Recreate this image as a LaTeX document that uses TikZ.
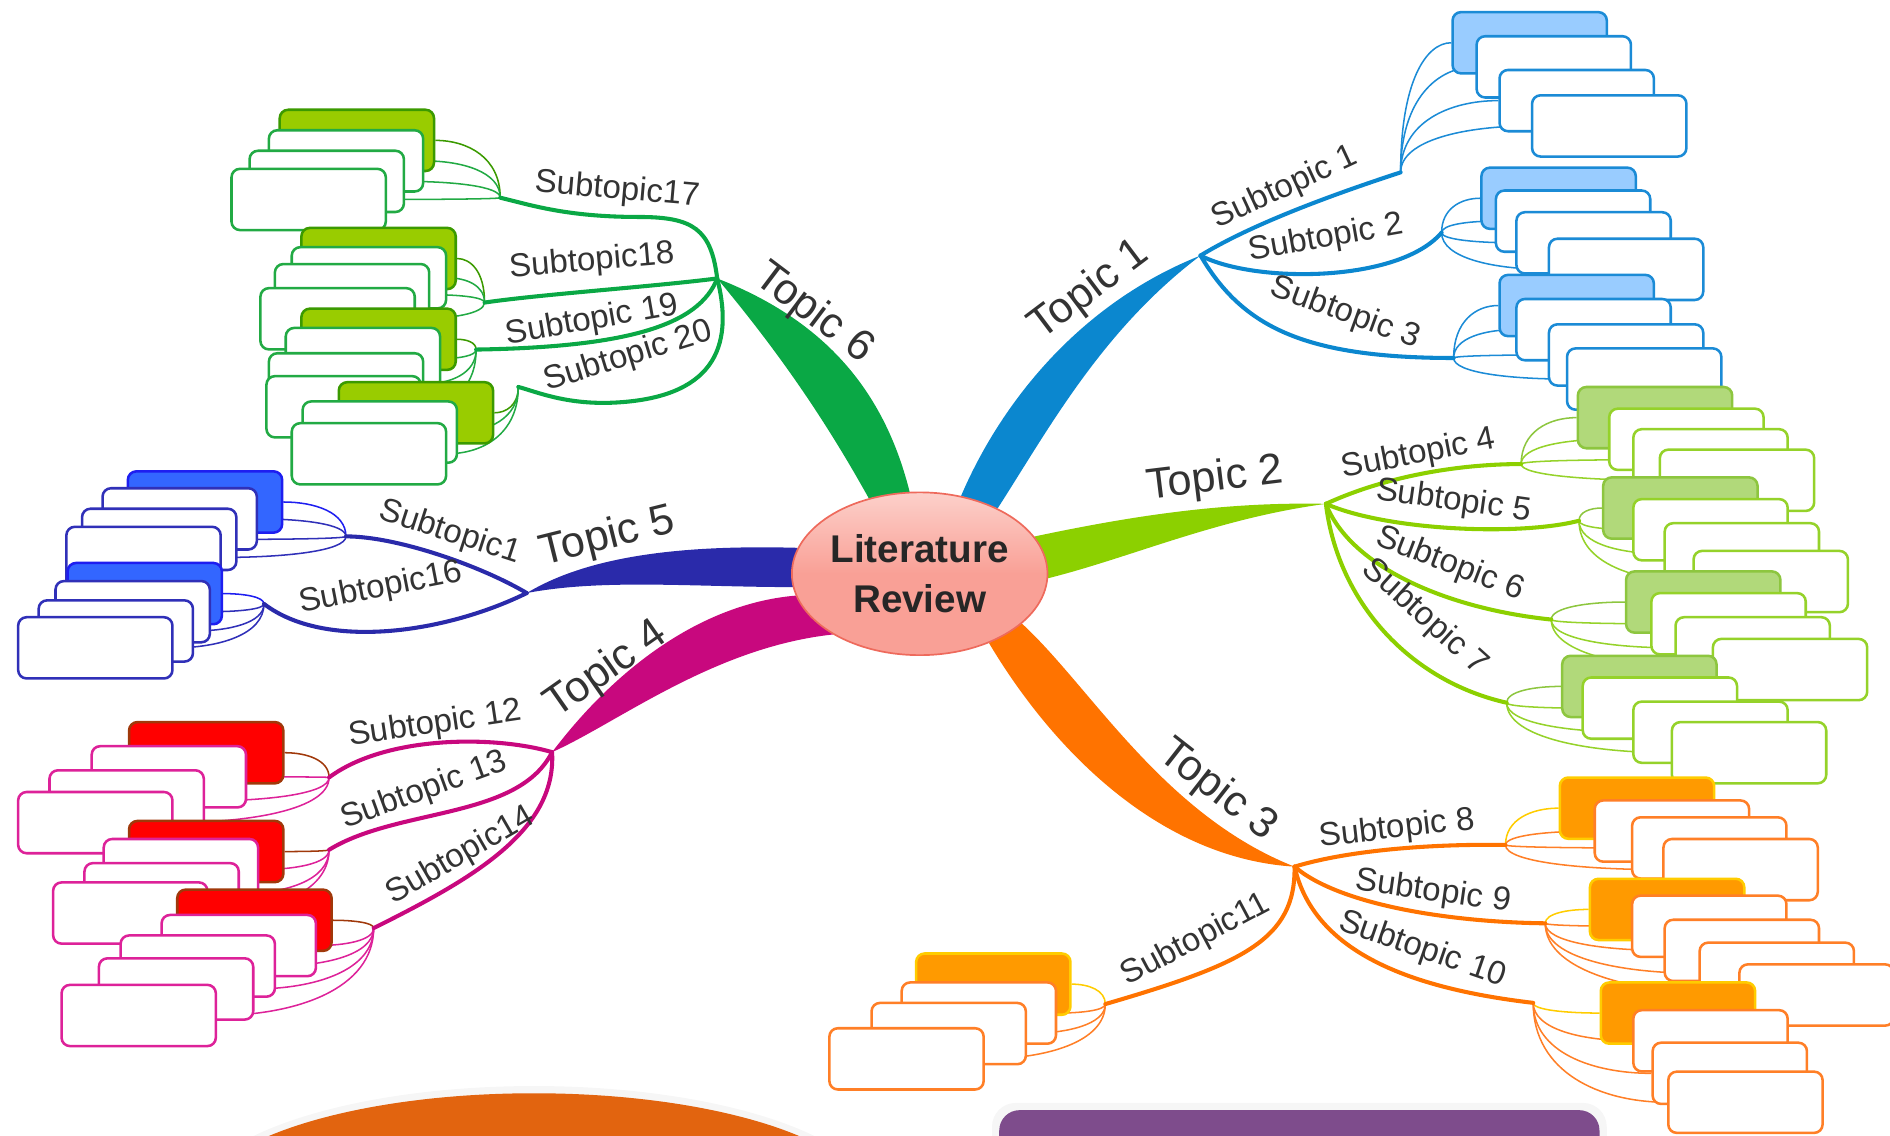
\documentclass[tikz,border=0pt]{standalone}
\usepackage{fontspec}
\setmainfont{Liberation Sans}
\usetikzlibrary{calc,shapes.geometric}
\pgfdeclarelayer{back}
\pgfsetlayers{back,main}

\definecolor{ink}{HTML}{333333}
\definecolor{litfill}{HTML}{F9A096}
\definecolor{litlight}{HTML}{FCD0CA}
\definecolor{litedge}{HTML}{EE6A5C}
\definecolor{topA}{HTML}{0B87CF}
\definecolor{leafA}{HTML}{1B8BD6}
\definecolor{fillA}{HTML}{99CCFF}
\definecolor{topB}{HTML}{8CD000}
\definecolor{leafB}{HTML}{95D22A}
\definecolor{fillB}{HTML}{B1D97A}
\definecolor{rimB}{HTML}{8DC63F}
\definecolor{topC}{HTML}{FF7300}
\definecolor{leafC}{HTML}{FF7F27}
\definecolor{fillC}{HTML}{FF9A00}
\definecolor{rimC}{HTML}{FFCC00}
\definecolor{topD}{HTML}{C8087E}
\definecolor{leafD}{HTML}{DD2299}
\definecolor{fillD}{HTML}{FF0000}
\definecolor{rimD}{HTML}{A0380A}
\definecolor{topE}{HTML}{2A2AAA}
\definecolor{leafE}{HTML}{3030B8}
\definecolor{fillE}{HTML}{3366FF}
\definecolor{rimE}{HTML}{1E1EF0}
\definecolor{topF}{HTML}{0AA845}
\definecolor{leafF}{HTML}{22AA44}
\definecolor{fillF}{HTML}{99CC00}
\definecolor{rimF}{HTML}{3B9A00}
\definecolor{blob}{HTML}{E2640F}
\definecolor{plum}{HTML}{7E4C8C}

% #1 name, #2 junction, #3 side, #4 line, #5 fill, #6 fill rim, #7 corners
\newcommand\leafstack[7]{%
  \foreach \x/\y [count=\i] in {#7}{%
    \ifnum\i=1 \colorlet{leafline}{#6}\colorlet{leafin}{#5}%
    \else \colorlet{leafline}{#4}\colorlet{leafin}{white}\fi
    \node[leaf, draw=leafline, fill=leafin] (#1-\i) at (\x,\y) {};
    \begin{pgfonlayer}{back}
      \draw[twig, leafline] (#2) .. controls ($(#2)!.7!(#2 |- #1-\i.#3)$) and ($(#1-\i.#3)!.5!(#2 |- #1-\i.#3)$) .. (#1-\i.#3);
    \end{pgfonlayer}
  }%
}

\begin{document}
\begin{tikzpicture}[x=0.025cm, y=-0.025cm,
  leaf/.style={rounded corners=5pt, minimum width=3.2cm, minimum height=1.27cm, inner sep=0pt, anchor=north west, line width=1.5pt},
  twig/.style={line width=0.9pt},
  subline/.style={line width=2.4pt, line cap=round},
  sub/.style={font=\fontsize{19.5}{20}\selectfont, text=ink, inner sep=0pt},
  topic/.style={font=\fontsize{25.5}{26}\selectfont, text=ink, inner sep=0pt}]

\useasboundingbox (0,0) rectangle (1568,942);

% partly hidden shapes at the bottom
\begin{scope}
  \clip (0,0) rectangle (1568,942);
  \fill[gray!7] (443,1000) ellipse (286 and 99);
  \fill[blob] (443,1000) ellipse (280 and 93);
  \fill[gray!7, rounded corners=14pt] (823,915) rectangle (1333,990);
  \fill[plum, rounded corners=12pt] (829,921) rectangle (1327,990);
\end{scope}

\node[ellipse, draw=litedge, line width=1pt, top color=litlight, bottom color=litfill, middle color=litfill,
  minimum width=5.3cm, minimum height=3.375cm, align=center, inner sep=0pt,
  font=\bfseries\fontsize{22.8}{29}\selectfont, text=black!85] (lit) at (763,476) {Literature\\Review};

\coordinate (t1) at (996,212);
\coordinate (t2) at (1100,418);
\coordinate (t3) at (1074,719);
\coordinate (t4) at (458,624);
\coordinate (t5) at (437,492);
\coordinate (t6) at (595,231);
\coordinate (s1) at (1162,143);
\coordinate (s2) at (1196,193);
\coordinate (s3) at (1206,297);
\coordinate (s4) at (1262,385);
\coordinate (s5) at (1310,432);
\coordinate (s6) at (1287,514);
\coordinate (s7) at (1250,583);
\coordinate (s8) at (1249,701);
\coordinate (s9) at (1282,766);
\coordinate (s10) at (1272,832);
\coordinate (s11) at (917,833);
\coordinate (s12) at (273,645);
\coordinate (s13) at (273,705);
\coordinate (s14) at (310,770);
\coordinate (s15) at (287,445);
\coordinate (s16) at (219,501);
\coordinate (s17) at (415,164);
\coordinate (s18) at (402,251);
\coordinate (s19) at (395,290);
\coordinate (s20) at (430,321);

\begin{pgfonlayer}{back}
  \fill[topA] (lit.62) .. controls (830,335) and (895,252) .. (t1) .. controls (914,274) and (870,356) .. (lit.40) -- cycle;
  \fill[topB] (lit.18) .. controls (930,430) and (1010,416) .. (t2) .. controls (1010,430) and (940,462) .. (lit.-2) -- cycle;
  \fill[topC] (lit.-26) .. controls (905,570) and (965,676) .. (t3) .. controls (960,712) and (872,620) .. (lit.-45) -- cycle;
  \fill[topD] (lit.190) .. controls (590,500) and (518,545) .. (t4) .. controls (512,600) and (592,537) .. (lit.215) -- cycle;
  \fill[topE] (lit.168) .. controls (570,452) and (490,460) .. (t5) .. controls (500,480) and (575,487) .. (lit.186) -- cycle;
  \fill[topF] (lit.97) .. controls (735,330) and (690,268) .. (t6) .. controls (640,285) and (680,340) .. (lit.124) -- cycle;
\end{pgfonlayer}

\draw[subline, topA] (t1) .. controls (1040,185) and (1110,160) .. (s1);
\draw[subline, topA] (t1) .. controls (1040,235) and (1160,235) .. (s2);
\draw[subline, topA] (t1) .. controls (1030,270) and (1080,297) .. (s3);
\draw[subline, topB] (t2) .. controls (1150,395) and (1210,385) .. (s4);
\draw[subline, topB] (t2) .. controls (1150,440) and (1260,445) .. (s5);
\draw[subline, topB] (t2) .. controls (1120,470) and (1200,505) .. (s6);
\draw[subline, topB] (t2) .. controls (1110,500) and (1170,565) .. (s7);
\draw[subline, topC] (t3) .. controls (1120,705) and (1190,700) .. (s8);
\draw[subline, topC] (t3) .. controls (1110,750) and (1200,765) .. (s9);
\draw[subline, topC] (t3) .. controls (1090,790) and (1170,820) .. (s10);
\draw[subline, topC] (t3) .. controls (1075,780) and (1030,800) .. (s11);
\draw[subline, topD] (t4) .. controls (410,610) and (320,610) .. (s12);
\draw[subline, topD] (t4) .. controls (430,680) and (330,670) .. (s13);
\draw[subline, topD] (t4) .. controls (462,690) and (390,730) .. (s14);
\draw[subline, topE] (t5) .. controls (400,470) and (330,445) .. (s15);
\draw[subline, topE] (t5) .. controls (370,525) and (270,540) .. (s16);
\draw[subline, topF] (t6) .. controls (590,190) and (575,180) .. (530,180) .. controls (470,180) and (440,170) .. (s17);
\draw[subline, topF] (t6) .. controls (540,238) and (450,244) .. (s18);
\draw[subline, topF] (t6) .. controls (580,270) and (520,288) .. (s19);
\draw[subline, topF] (t6) .. controls (610,290) and (590,330) .. (510,334) .. controls (470,336) and (445,325) .. (s20);

\node[topic, rotate=37] (lt1) at (904,241) {Topic 1};
\node[topic, rotate=7] (lt2) at (1008,398) {Topic 2};
\node[topic, rotate=-38] (lt3) at (1010,656) {Topic 3};
\node[topic, rotate=35] (lt4) at (503,556) {Topic 4};
\node[topic, rotate=14] (lt5) at (504,446) {Topic 5};
\node[topic, rotate=-37] (lt6) at (675,260) {Topic 6};

\node[sub, rotate=25] (l1) at (1066,156) {Subtopic 1};
\node[sub, rotate=10] (l2) at (1100,198) {Subtopic 2};
\node[sub, rotate=-20] (l3) at (1116,260) {Subtopic 3};
\node[sub, rotate=11] (l4) at (1177,377) {Subtopic 4};
\node[sub, rotate=-8] (l5) at (1206,416) {Subtopic 5};
\node[sub, rotate=-21] (l6) at (1203,468) {Subtopic 6};
\node[sub, rotate=-42] (l7) at (1182,512) {Subtopic 7};
\node[sub, rotate=6.5] (l8) at (1159,688) {Subtopic 8};
\node[sub, rotate=-8] (l9) at (1189,740) {Subtopic 9};
\node[sub, rotate=-19] (l10) at (1180,788) {Subtopic 10};
\node[sub, rotate=28] (l11) at (992,780) {Subtopic11};
\node[sub, rotate=8.5] (l12) at (361,601) {Subtopic 12};
\node[sub, rotate=20] (l13) at (352,656) {Subtopic 13};
\node[sub, rotate=30] (l14) at (382,710) {Subtopic14};
\node[sub, rotate=-18] (l15) at (373,442) {Subtopic1};
\node[sub, rotate=11] (l16) at (316,488) {Subtopic16};
\node[sub, rotate=-5] (l17) at (512,158) {Subtopic17};
\node[sub, rotate=5] (l18) at (491,217) {Subtopic18};
\node[sub, rotate=10] (l19) at (491,266) {Subtopic 19};
\node[sub, rotate=17] (l20) at (521,296) {Subtopic 20};

\leafstack{g1}{s1}{west}{leafA}{fillA}{leafA}{1204/9,1224/29,1243/57,1270/78}
\leafstack{g2}{s2}{west}{leafA}{fillA}{leafA}{1228/138,1240/157,1257/175,1284/197}
\leafstack{g3}{s3}{west}{leafA}{fillA}{leafA}{1243/227,1257/247,1284/268,1299/288}
\leafstack{g4}{s4}{west}{leafB}{fillB}{rimB}{1308/320,1334/338,1354/355,1376/372}
\leafstack{g5}{s5}{west}{leafB}{fillB}{rimB}{1329/395,1354/413,1380/433,1404/456}
\leafstack{g6}{s6}{west}{leafB}{fillB}{rimB}{1348/473,1369/491,1389/511,1420/529}
\leafstack{g7}{s7}{west}{leafB}{fillB}{rimB}{1295/543,1312/561,1354/581,1386/598}
\leafstack{g8}{s8}{west}{leafC}{fillC}{rimC}{1293/644,1322/663,1353/677,1379/695}
\leafstack{g9}{s9}{west}{leafC}{fillC}{rimC}{1318/728,1353/742,1380/762,1409/781,1442/799}
\leafstack{g10}{s10}{west}{leafC}{fillC}{rimC}{1327/814,1354/837,1370/864,1383/888}
\leafstack{g11}{s11}{east}{leafC}{fillC}{rimC}{759/790,747/814,722/831,687/852}
\leafstack{g17}{s17}{east}{leafF}{fillF}{rimF}{231/90,222/107,206/124,191/139}
\leafstack{g18}{s18}{east}{leafF}{fillF}{rimF}{249/188,241/204,227/218,215/238}
\leafstack{g19}{s19}{east}{leafF}{fillF}{rimF}{249/255,236/271,222/292,220/311}
\leafstack{g20}{s20}{east}{leafF}{fillF}{rimF}{280/316,250/332,241/350}
\leafstack{g15}{s15}{east}{leafE}{fillE}{rimE}{105/390,84/404,67/421,54/436}
\leafstack{g16}{s16}{east}{leafE}{fillE}{rimE}{55/466,45/481,31/497,14/511}
\leafstack{g12}{s12}{east}{leafD}{fillD}{rimD}{106/598,75/618,40/638,14/656}
\leafstack{g13}{s13}{east}{leafD}{fillD}{rimD}{106/680,85/695,69/715,43/731}
\leafstack{g14}{s14}{east}{leafD}{fillD}{rimD}{146/737,133/758,99/775,81/794,50/816}
\end{tikzpicture}
\end{document}
